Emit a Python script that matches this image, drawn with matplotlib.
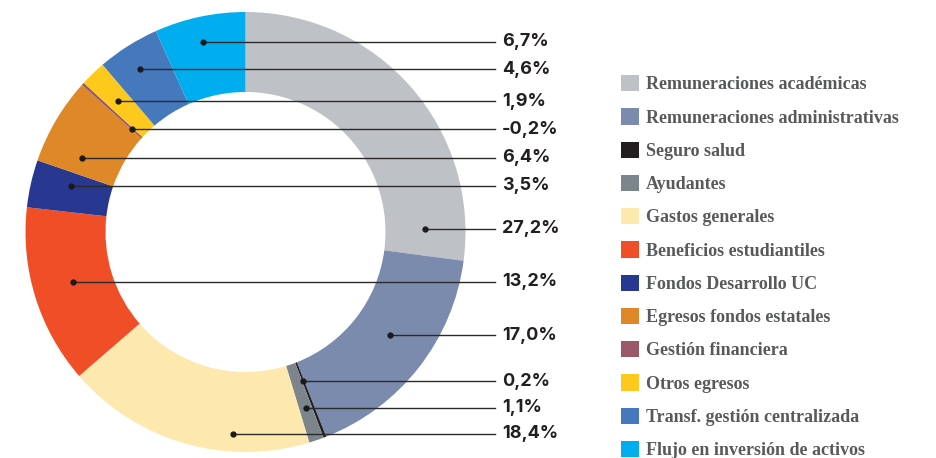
import numpy as np
import matplotlib
matplotlib.use('Agg')
import matplotlib.pyplot as plt
from matplotlib.patches import Patch

# datos
categorias = ['Remuneraciones académicas', 'Remuneraciones administrativas', 'Seguro salud',
              'Ayudantes', 'Gastos generales', 'Beneficios estudiantiles', 'Fondos Desarrollo UC',
              'Egresos fondos estatales', 'Gestión financiera', 'Otros egresos',
              'Transf. gestión centralizada', 'Flujo en inversión de activos']
valores = [27.2, 17.0, 0.2, 1.1, 18.4, 13.2, 3.5, 6.4, -0.2, 1.9, 4.6, 6.7]
colores = ['#BEC1C6', '#7B8BAD', '#231F20', '#7D858C', '#FDE8AE', '#F04E27',
           '#283891', '#DE8828', '#9A5869', '#FDC91D', '#4678BC', '#00AEEF']

# altura (px desde arriba) de cada etiqueta de porcentaje
label_y_px = [229, 335, 381, 408, 434, 282, 186, 158, 129, 101, 69, 42]

W, H = 937, 458
fig = plt.figure(figsize=(W / 100, H / 100), dpi=100)
ax = fig.add_axes([0, 0, 1, 1])

cx, cy = 245.5, H - 232
R_out, ring = 220, 80

wedges, _ = ax.pie(np.abs(valores), colors=colores, startangle=90, counterclock=False,
                   center=(cx, cy), radius=R_out,
                   wedgeprops=dict(width=ring, linewidth=0))
ax.set_xlim(0, W)
ax.set_ylim(0, H)
ax.set_aspect('equal')
ax.axis('off')

# punto de anclaje: centro del tramo de la línea horizontal que cae dentro del sector
xs = np.linspace(cx - R_out, cx + R_out, 4000)
line_end = 495
for w, v, ypx in zip(wedges, valores, label_y_px):
    y = H - ypx
    dx, dy = xs - cx, y - cy
    r = np.hypot(dx, dy)
    ang = np.degrees(np.arctan2(dy, dx)) % 360
    t1, t2 = w.theta1 % 360, w.theta2 % 360
    if t1 <= t2:
        inside = (ang >= t1) & (ang <= t2)
    else:
        inside = (ang >= t1) | (ang <= t2)
    inside &= (r >= R_out - ring) & (r <= R_out)
    if inside.any():
        xd = (xs[inside].min() + xs[inside].max()) / 2
    else:
        xd = cx
    ax.plot([xd, line_end], [y, y], color='#2a2a2a', lw=1.0, zorder=3)
    ax.plot(xd, y, 'o', color='#1a1a1a', ms=3.5, zorder=4)
    txt = f'{v:.1f}%'.replace('.', ',')
    ax.text(line_end + 7, y, txt, ha='left', va='center', fontsize=13,
            fontweight='bold', color='#231F20', family=['Inter', 'DejaVu Sans'])

handles = [Patch(facecolor=c, edgecolor='none') for c in colores]
leg = fig.legend(handles, categorias, loc='upper left',
                 bbox_to_anchor=(614 / W, 1 - 68 / H), frameon=False,
                 handlelength=1.0, handleheight=1.0, handletextpad=0.35,
                 labelspacing=0.83, borderaxespad=0,
                 prop=dict(family='Liberation Serif', size=13, weight='bold'))
for t in leg.get_texts():
    t.set_color('#58595B')

fig.savefig('out.png', dpi=100, facecolor='white')
